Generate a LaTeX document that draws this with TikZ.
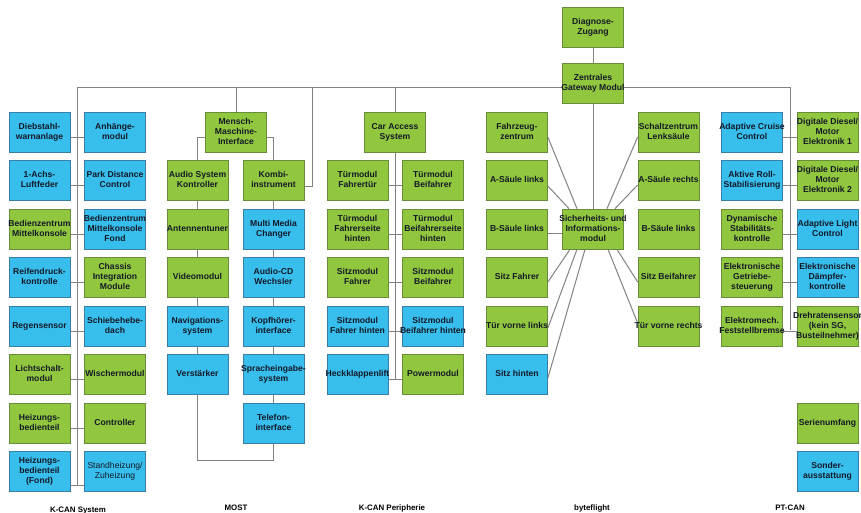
\documentclass[tikz,border=0pt]{standalone}
\usepackage{fontspec}
\setmainfont{Liberation Sans}
\pgfdeclarelayer{background}
\pgfsetlayers{background,main}
\definecolor{gfill}{RGB}{145,199,62}
\definecolor{bfill}{RGB}{56,190,236}
\definecolor{gdraw}{RGB}{105,140,60}
\definecolor{bdraw}{RGB}{60,125,165}
\definecolor{txt}{RGB}{20,25,40}
\definecolor{wirecol}{RGB}{130,130,130}
\newcommand\bx[1]{\makebox[57pt][c]{\begin{tabular}{@{}c@{}}#1\end{tabular}}}
\tikzset{
  box/.style={minimum width=61pt, minimum height=40pt, inner sep=2pt, line width=0.7pt,
    font=\fontsize{8.6}{10}\selectfont\bfseries, text=txt},
  gbox/.style={box, fill=gfill, draw=gdraw},
  bbox/.style={box, fill=bfill, draw=bdraw},
  wire/.style={draw=wirecol, line width=1pt},
  lab/.style={font=\fontsize{7.9}{9}\selectfont\bfseries, text=black, inner sep=0pt, anchor=base},
}
\begin{document}
\begin{tikzpicture}[x=1pt,y=-1pt]
\useasboundingbox (0,0) rectangle (861,512);

% ---------- K-CAN System ----------
\node[bbox] (dw)  at (39.5,132) {\bx{Diebstahl-\\warnanlage}};
\node[bbox] (am)  at (115,132)  {\bx{Anhänge-\\modul}};
\node[bbox] (al)  at (39.5,180) {\bx{1-Achs-\\Luftfeder}};
\node[bbox] (pdc) at (115,180)  {\bx{Park Distance\\Control}};
\node[gbox] (bzm) at (39.5,229) {\bx{Bedienzentrum\\Mittelkonsole}};
\node[bbox] (bzf) at (115,229)  {\bx{Bedienzentrum\\Mittelkonsole\\Fond}};
\node[bbox] (rdk) at (39.5,277) {\bx{Reifendruck-\\kontrolle}};
\node[gbox] (cim) at (115,277)  {\bx{Chassis\\Integration\\Module}};
\node[bbox] (rs)  at (39.5,326) {\bx{Regensensor}};
\node[bbox] (shd) at (115,326)  {\bx{Schiebehebe-\\dach}};
\node[gbox] (lsm) at (39.5,374) {\bx{Lichtschalt-\\modul}};
\node[gbox] (wm)  at (115,374)  {\bx{Wischermodul}};
\node[gbox] (hb)  at (39.5,423) {\bx{Heizungs-\\bedienteil}};
\node[gbox] (ctl) at (115,423)  {\bx{Controller}};
\node[bbox] (hbf) at (39.5,471) {\bx{Heizungs-\\bedienteil\\(Fond)}};
\node[bbox, font=\fontsize{8.6}{10}\selectfont\mdseries] (sth) at (115,471) {\bx{Standheizung/\\Zuheizung}};

% ---------- MOST ----------
\node[gbox] (mmi) at (236,132)   {\bx{Mensch-\\Maschine-\\Interface}};
\node[gbox] (asc) at (197.5,180) {\bx{Audio System\\Kontroller}};
\node[gbox] (ki)  at (273.5,180) {\bx{Kombi-\\instrument}};
\node[gbox] (ant) at (197.5,229) {\bx{Antennentuner}};
\node[bbox] (mmc) at (273.5,229) {\bx{Multi Media\\Changer}};
\node[gbox] (vm)  at (197.5,277) {\bx{Videomodul}};
\node[bbox] (acd) at (273.5,277) {\bx{Audio-CD\\Wechsler}};
\node[bbox] (nav) at (197.5,326) {\bx{Navigations-\\system}};
\node[bbox] (kh)  at (273.5,326) {\bx{Kopfhörer-\\interface}};
\node[bbox] (vs)  at (197.5,374) {\bx{Verstärker}};
\node[bbox] (spr) at (273.5,374) {\bx{Spracheingabe-\\system}};
\node[bbox] (tel) at (273.5,423) {\bx{Telefon-\\interface}};

% ---------- K-CAN Peripherie ----------
\node[gbox] (cas) at (395,132)   {\bx{Car Access\\System}};
\node[gbox] (tf)  at (357.5,180) {\bx{Türmodul\\Fahrertür}};
\node[gbox] (tb)  at (433,180)   {\bx{Türmodul\\Beifahrer}};
\node[gbox] (tfh) at (357.5,229) {\bx{Türmodul\\Fahrerseite\\hinten}};
\node[gbox] (tbh) at (433,229)   {\bx{Türmodul\\Beifahrerseite\\hinten}};
\node[gbox] (sf)  at (357.5,277) {\bx{Sitzmodul\\Fahrer}};
\node[gbox] (sbf) at (433,277)   {\bx{Sitzmodul\\Beifahrer}};
\node[bbox] (sfh) at (357.5,326) {\bx{Sitzmodul\\Fahrer hinten}};
\node[bbox] (sbh) at (433,326)   {\bx{Sitzmodul\\Beifahrer hinten}};
\node[bbox] (hkl) at (357.5,374) {\bx{Heckklappenlift}};
\node[gbox] (pm)  at (433,374)   {\bx{Powermodul}};

% ---------- byteflight ----------
\node[gbox] (diag) at (593,27)   {\bx{Diagnose-\\Zugang}};
\node[gbox] (gw)   at (593,83)   {\bx{Zentrales\\Gateway Modul}};
\node[gbox] (sim)  at (593,229)  {\bx{Sicherheits- und\\Informations-\\modul}};
\node[gbox] (fz)   at (517,132)  {\bx{Fahrzeug-\\zentrum}};
\node[gbox] (asl)  at (517,180)  {\bx{A-Säule links}};
\node[gbox] (bsl)  at (517,229)  {\bx{B-Säule links}};
\node[gbox] (sfa)  at (517,277)  {\bx{Sitz Fahrer}};
\node[gbox] (tvl)  at (517,326)  {\bx{Tür vorne links}};
\node[bbox] (sh)   at (517,374)  {\bx{Sitz hinten}};
\node[gbox] (sz)   at (668.5,132) {\bx{Schaltzentrum\\Lenksäule}};
\node[gbox] (asr)  at (668.5,180) {\bx{A-Säule rechts}};
\node[gbox] (bsr)  at (668.5,229) {\bx{B-Säule links}};
\node[gbox] (sbe)  at (668.5,277) {\bx{Sitz Beifahrer}};
\node[gbox] (tvr)  at (668.5,326) {\bx{Tür vorne rechts}};

% ---------- PT-CAN ----------
\node[bbox] (acc)  at (752,132)   {\bx{Adaptive Cruise\\Control}};
\node[gbox] (dde1) at (827.5,132) {\bx{Digitale Diesel/\\Motor\\Elektronik 1}};
\node[bbox] (ars)  at (752,180)   {\bx{Aktive Roll-\\Stabilisierung}};
\node[gbox] (dde2) at (827.5,180) {\bx{Digitale Diesel/\\Motor\\Elektronik 2}};
\node[gbox] (dsc)  at (752,229)   {\bx{Dynamische\\Stabilitäts-\\kontrolle}};
\node[bbox] (alc)  at (827.5,229) {\bx{Adaptive Light\\Control}};
\node[gbox] (egs)  at (752,277)   {\bx{Elektronische\\Getriebe-\\steuerung}};
\node[bbox] (edc)  at (827.5,277) {\bx{Elektronische\\Dämpfer-\\kontrolle}};
\node[gbox] (emf)  at (752,326)   {\bx{Elektromech.\\Feststellbremse}};
\node[gbox] (drs)  at (827.5,326) {\bx{Drehratensensor\\(kein SG,\\Busteilnehmer)}};
\node[gbox] (ser)  at (827.5,423) {\bx{Serienumfang}};
\node[bbox] (sa)   at (827.5,471) {\bx{Sonder-\\ausstattung}};

% ---------- labels ----------
\node[lab] (l1) at (78,512)  {K-CAN System};
\node[lab] (l2) at (236,510) {MOST};
\node[lab] (l3) at (392,510) {K-CAN Peripherie};
\node[lab] (l4) at (592,510) {byteflight};
\node[lab] (l5) at (790,510) {PT-CAN};

% ---------- bus coordinates ----------
\coordinate (busL) at (77,87);
\coordinate (busR) at (790,87);
\coordinate (kend) at (77,485);
\coordinate (kbus) at (312,87);
\coordinate (loopL) at (197.5,460);
\coordinate (loopR) at (273.5,460);
\coordinate (cend) at (395,379);
\coordinate (pend) at (790,330);

\begin{pgfonlayer}{background}
\fill[white] (0,0) rectangle (861,512);
% main bus
\draw[wire] ([yshift=-4pt]gw.west) -- (busL) -- (kend);
\draw[wire] ([yshift=-4pt]gw.east) -- (busR) -- (pend);
\draw[wire] (diag.south) -- (gw.north);
\draw[wire] (gw.south) -- (sim.north);

% K-CAN System
\foreach \a/\b in {dw/am, al/pdc, bzm/bzf, rdk/cim, rs/shd, lsm/wm, hb/ctl}
  \draw[wire] ([yshift=-5pt]\a.east) -- ([yshift=-5pt]\b.west);
\draw[wire] ([yshift=-14pt]hbf.east) -- ([yshift=-14pt]sth.west);

% MOST
\draw[wire] (mmi.north) -- (mmi.north |- busL);
\draw[wire] ([yshift=-5pt]mmi.west) -| (asc.north);
\draw[wire] ([yshift=-5pt]mmi.east) -| (ki.north);
\draw[wire] ([yshift=-6pt]ki.east) -| (kbus);
\draw[wire] (asc.south) -- (ant.north);
\draw[wire] (ant.south) -- (vm.north);
\draw[wire] (vm.south) -- (nav.north);
\draw[wire] (nav.south) -- (vs.north);
\draw[wire] (ki.south) -- (mmc.north);
\draw[wire] (mmc.south) -- (acd.north);
\draw[wire] (acd.south) -- (kh.north);
\draw[wire] (kh.south) -- (spr.north);
\draw[wire] (spr.south) -- (tel.north);
\draw[wire] (vs.south) -- (loopL) -- (loopR) -- (tel.south);

% K-CAN Peripherie
\draw[wire] (cas.north) -- (cas.north |- busL);
\draw[wire] (cas.south) -- (cend);
\foreach \a/\b in {tf/tb, tfh/tbh, sf/sbf, sfh/sbh, hkl/pm}
  \draw[wire] ([yshift=-5pt]\a.east) -- ([yshift=-5pt]\b.west);

% byteflight
\draw[wire] ([yshift=-5pt]fz.east)  -- ([xshift=-16pt]sim.north);
\draw[wire] ([yshift=-6pt]asl.east) -- ([xshift=-24pt]sim.north);
\draw[wire] ([yshift=-4pt]bsl.east) -- ([yshift=-4pt]sim.west);
\draw[wire] ([yshift=-5pt]sfa.east) -- ([xshift=-23pt]sim.south);
\draw[wire] ([yshift=-2pt]tvl.east) -- ([xshift=-16pt]sim.south);
\draw[wire] ([yshift=-4pt]sh.east)  -- ([xshift=-8pt]sim.south);
\draw[wire] ([yshift=-5pt]sz.west)  -- ([xshift=14pt]sim.north);
\draw[wire] ([yshift=-5pt]asr.west) -- ([xshift=22pt]sim.north);
\draw[wire] ([yshift=-5pt]sbe.west) -- ([xshift=24pt]sim.south);
\draw[wire] ([yshift=3pt]tvr.west)  -- ([xshift=15pt]sim.south);

% PT-CAN
\foreach \a/\b in {acc/dde1, ars/dde2, dsc/alc, egs/edc, emf/drs}
  \draw[wire] ([yshift=-5pt]\a.east) -- ([yshift=-5pt]\b.west);
\end{pgfonlayer}
\end{tikzpicture}
\end{document}
